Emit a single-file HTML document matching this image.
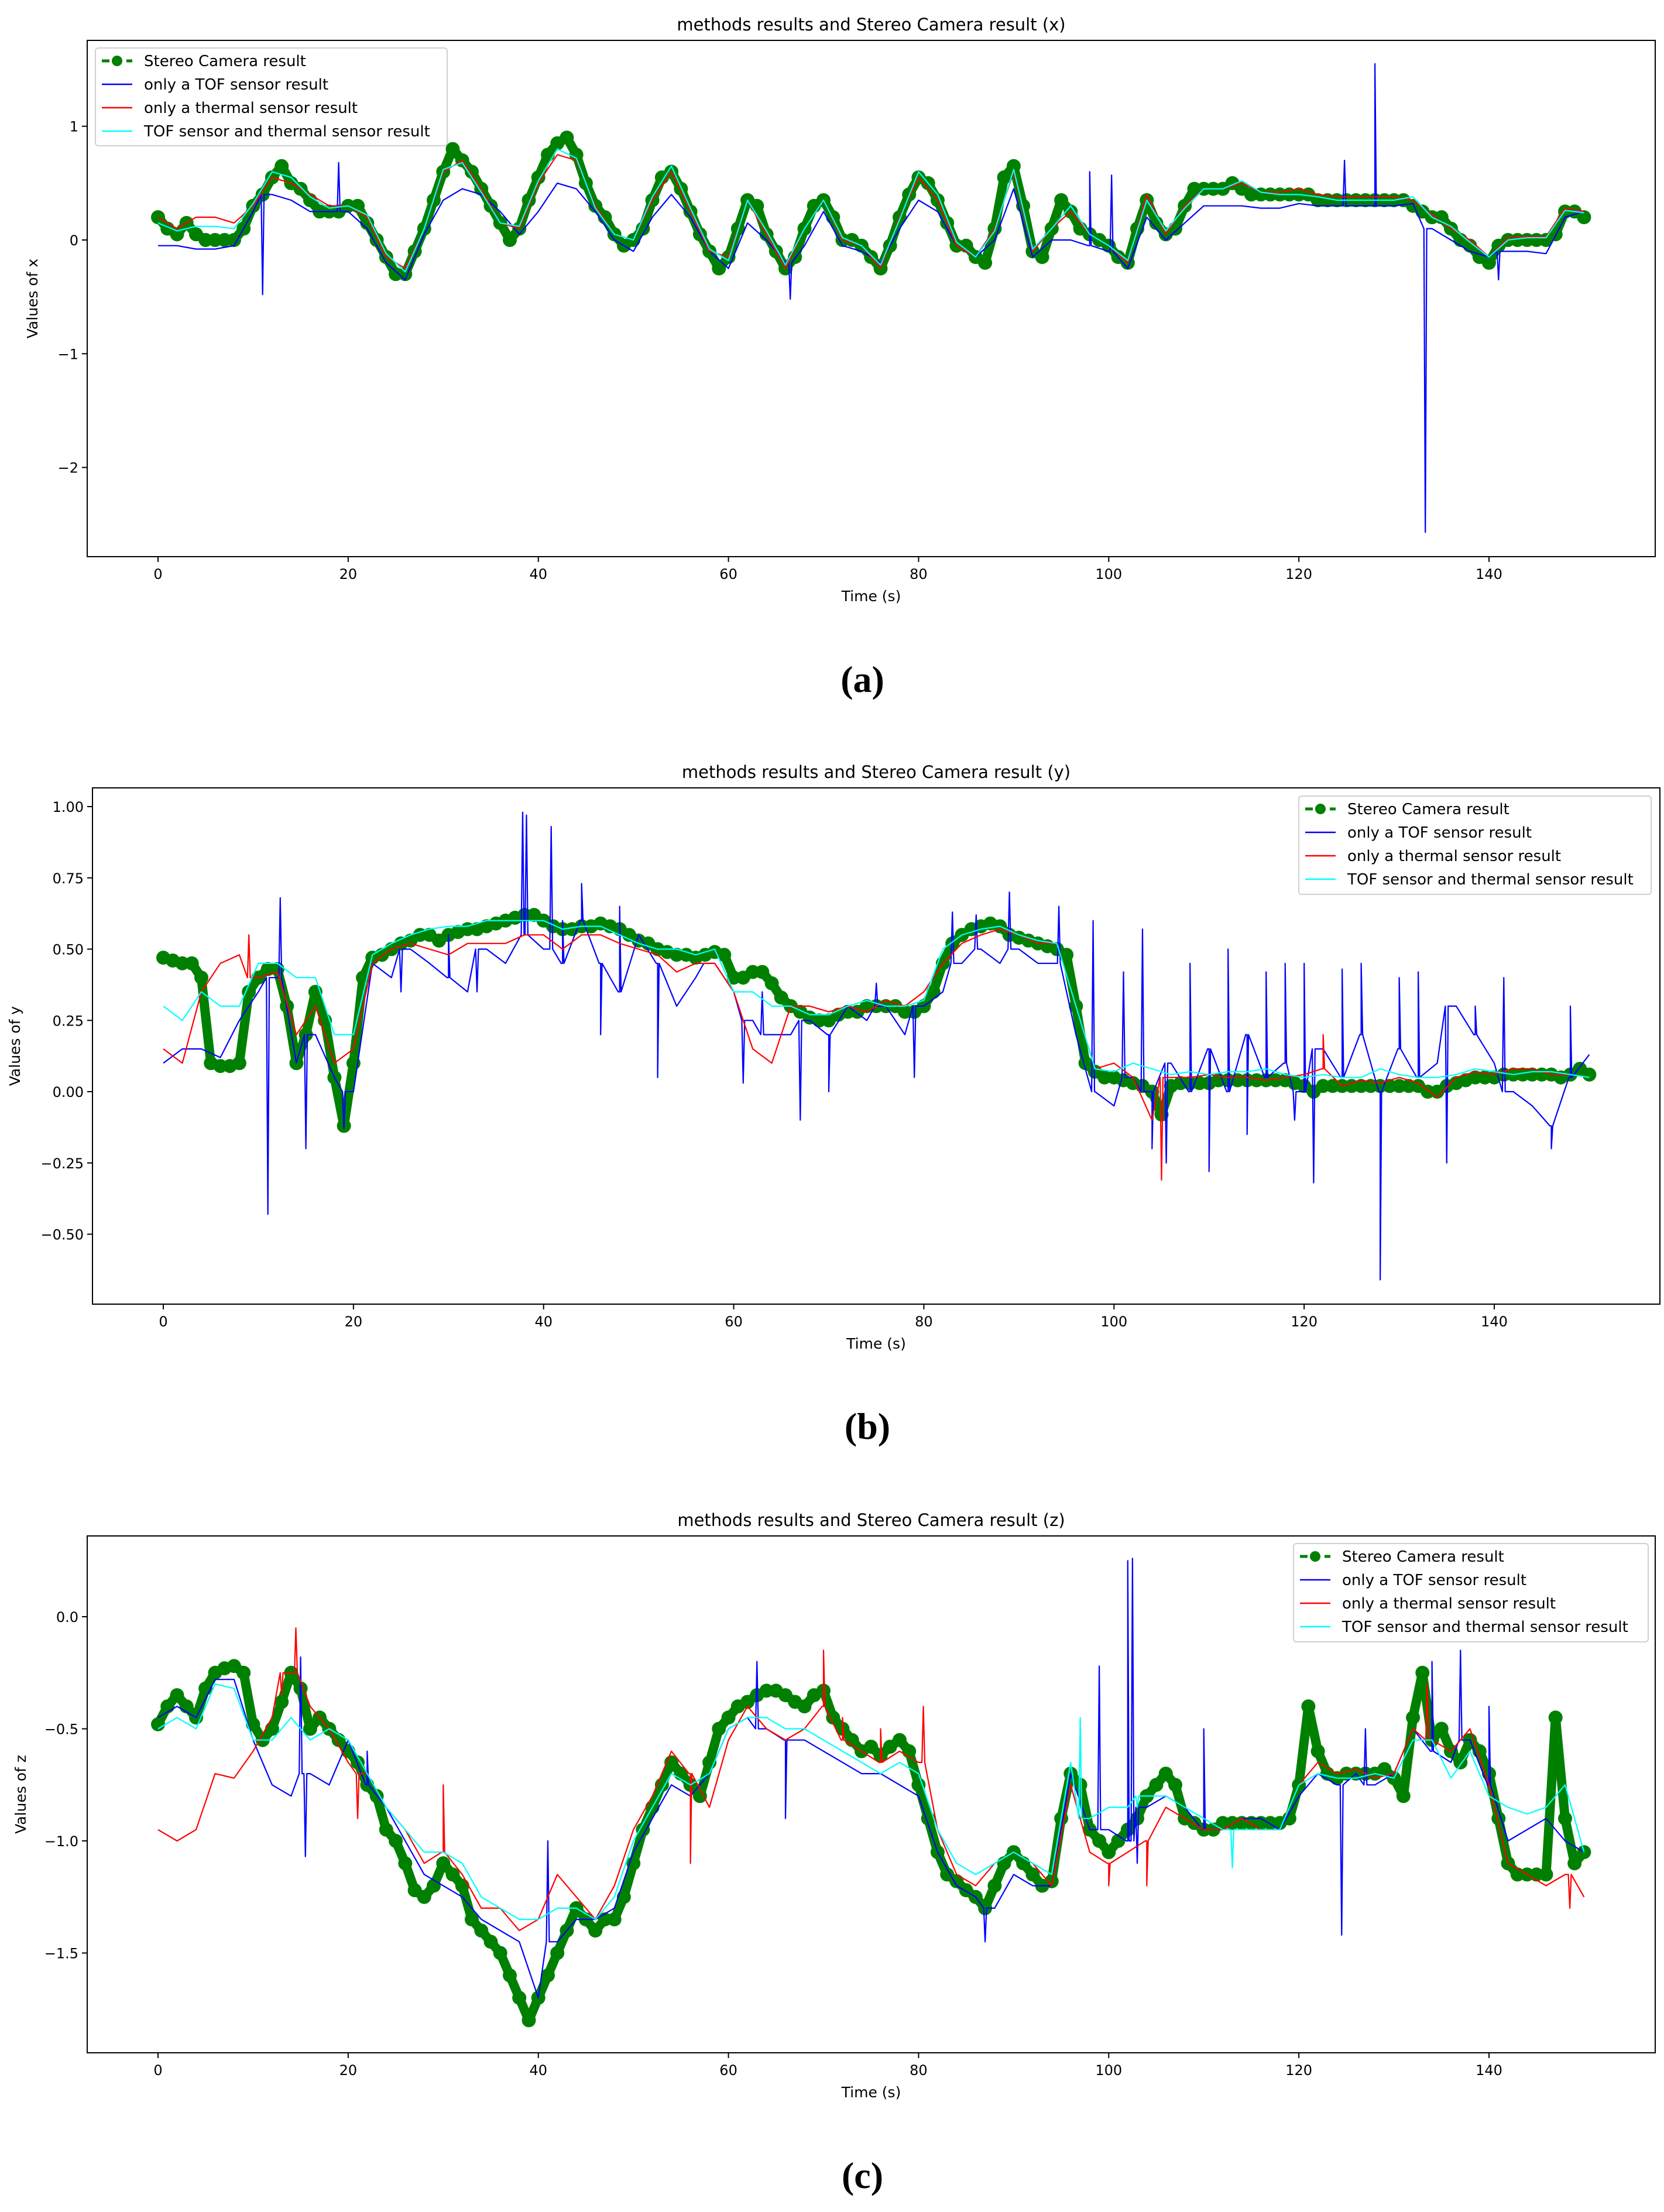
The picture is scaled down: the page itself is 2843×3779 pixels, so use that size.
<!DOCTYPE html>
<html><head><meta charset="utf-8">
<style>
html,body{margin:0;padding:0;background:#fff;}
svg{display:block;}
text{font-family:"DejaVu Sans","Liberation Sans",sans-serif;fill:#000;}
.cap{font-family:"Liberation Serif",serif;font-weight:bold;}
</style></head>
<body>
<svg id="fig" width="2843" height="3779" viewBox="0 0 2843 3779" xmlns="http://www.w3.org/2000/svg"></svg>
<script>
// ---------- Panel (a): x ----------
const stereoX = [0.2,0.1,0.05,0.15,0.05,0.0,0.0,0.0,0.0,0.1,0.3,0.4,0.55,0.65,0.5,0.45,0.35,0.25,0.25,0.25,0.3,0.3,0.15,0.0,-0.15,-0.3,-0.3,-0.1,0.1,0.35,0.6,0.8,0.7,0.6,0.45,0.3,0.15,0.0,0.1,0.35,0.55,0.75,0.85,0.9,0.75,0.5,0.3,0.2,0.05,-0.05,0.0,0.1,0.35,0.55,0.6,0.45,0.25,0.05,-0.1,-0.25,-0.15,0.1,0.35,0.3,0.05,-0.1,-0.25,-0.15,0.1,0.3,0.35,0.2,0.0,0.0,-0.05,-0.15,-0.25,-0.05,0.2,0.4,0.55,0.5,0.35,0.15,-0.05,-0.05,-0.15,-0.2,0.1,0.55,0.65,0.3,-0.1,-0.15,0.1,0.35,0.25,0.1,0.05,0.0,-0.05,-0.15,-0.2,0.1,0.35,0.15,0.05,0.1,0.3,0.45,0.45,0.45,0.45,0.5,0.45,0.4,0.4,0.4,0.4,0.4,0.4,0.4,0.35,0.35,0.35,0.35,0.35,0.35,0.35,0.35,0.35,0.35,0.3,0.25,0.2,0.2,0.1,0.0,-0.05,-0.15,-0.2,-0.05,0.0,0.0,0.0,0.0,0.0,0.05,0.25,0.25,0.2];
const tofX = [-0.05,-0.05,-0.08,-0.08,-0.05,0.25,0.4,0.35,0.25,0.25,0.25,0.1,-0.2,-0.35,0.05,0.35,0.45,0.4,0.25,0.05,0.25,0.5,0.45,0.25,0.0,-0.1,0.2,0.4,0.2,-0.1,-0.25,0.15,0.0,-0.2,-0.05,0.25,-0.05,-0.1,-0.2,0.1,0.35,0.25,-0.05,-0.15,0.0,0.45,-0.15,0.0,0.0,-0.05,-0.1,-0.25,0.2,0.0,0.15,0.3,0.3,0.3,0.28,0.28,0.32,0.3,0.3,0.3,0.3,0.3,0.32,0.1,0.0,-0.1,-0.15,-0.1,-0.1,-0.12,0.2,0.25];
const thermalX = [0.2,0.1,0.2,0.2,0.15,0.3,0.55,0.5,0.4,0.3,0.3,0.2,-0.15,-0.25,0.1,0.6,0.7,0.45,0.15,0.1,0.5,0.75,0.7,0.3,0.05,0.0,0.35,0.6,0.25,-0.1,-0.15,0.35,0.05,-0.25,0.1,0.35,0.0,-0.05,-0.25,0.2,0.55,0.35,-0.05,-0.15,0.1,0.6,-0.1,0.1,0.25,0.05,-0.05,-0.2,0.4,0.05,0.3,0.45,0.45,0.5,0.42,0.42,0.45,0.4,0.38,0.38,0.38,0.38,0.35,0.22,0.1,0.0,-0.15,0.02,0.03,0.03,0.28,0.25];
const fusedX = [0.15,0.08,0.12,0.12,0.1,0.32,0.6,0.55,0.38,0.28,0.3,0.22,-0.12,-0.28,0.1,0.62,0.68,0.42,0.15,0.12,0.52,0.8,0.72,0.28,0.05,0.0,0.38,0.65,0.28,-0.08,-0.18,0.35,0.08,-0.22,0.1,0.35,0.02,-0.05,-0.22,0.18,0.6,0.4,-0.02,-0.15,0.08,0.62,-0.08,0.1,0.3,0.05,-0.05,-0.18,0.35,0.08,0.28,0.45,0.45,0.52,0.42,0.4,0.4,0.38,0.35,0.35,0.35,0.35,0.38,0.2,0.12,-0.02,-0.15,0.0,0.02,0.02,0.26,0.24];
const tofXSpikeT = [11,19,66.5,98,100.3,124.8,128,133.3,141];
const tofXSpikeV = [-0.48,0.68,-0.52,0.6,0.57,0.7,1.55,-2.57,-0.35];

// ---------- Panel (b): y ----------
const stereoY = [0.47,0.46,0.45,0.45,0.4,0.1,0.09,0.09,0.1,0.35,0.4,0.43,0.43,0.3,0.1,0.2,0.35,0.25,0.05,-0.12,0.1,0.4,0.47,0.48,0.5,0.52,0.53,0.55,0.55,0.53,0.55,0.56,0.57,0.57,0.58,0.59,0.6,0.61,0.62,0.62,0.6,0.58,0.57,0.57,0.58,0.58,0.59,0.58,0.57,0.55,0.53,0.52,0.5,0.49,0.48,0.48,0.47,0.48,0.49,0.48,0.4,0.4,0.42,0.42,0.38,0.33,0.3,0.28,0.26,0.25,0.25,0.27,0.28,0.28,0.3,0.3,0.3,0.3,0.28,0.28,0.3,0.35,0.45,0.52,0.55,0.57,0.58,0.59,0.58,0.55,0.54,0.53,0.52,0.51,0.5,0.48,0.3,0.1,0.07,0.05,0.05,0.04,0.03,0.02,0.0,-0.08,0.02,0.03,0.03,0.03,0.03,0.04,0.04,0.04,0.04,0.04,0.04,0.04,0.04,0.03,0.02,0.0,0.02,0.02,0.02,0.02,0.02,0.02,0.02,0.02,0.02,0.02,0.02,0.0,0.0,0.02,0.03,0.04,0.05,0.05,0.05,0.06,0.06,0.06,0.06,0.06,0.06,0.05,0.06,0.08,0.06];
const tofY = [0.1,0.15,0.15,0.12,0.25,0.35,0.4,0.1,0.2,0.05,0.0,0.45,0.4,0.5,0.45,0.4,0.35,0.5,0.45,0.55,0.5,0.45,0.6,0.45,0.35,0.55,0.45,0.3,0.4,0.45,0.35,0.25,0.2,0.2,0.25,0.2,0.3,0.25,0.3,0.2,0.3,0.35,0.45,0.5,0.45,0.5,0.45,0.45,0.2,0.0,-0.05,0.05,0.0,0.1,0.0,0.15,0.0,0.2,0.05,0.1,0.0,0.15,0.05,0.2,0.0,0.15,0.05,0.1,0.3,0.2,0.1,0.0,-0.05,-0.12,0.05,0.13];
const thermalY = [0.15,0.1,0.35,0.45,0.48,0.4,0.42,0.2,0.3,0.1,0.15,0.45,0.5,0.52,0.5,0.48,0.52,0.52,0.52,0.55,0.55,0.5,0.55,0.55,0.52,0.5,0.48,0.42,0.45,0.45,0.35,0.15,0.1,0.3,0.3,0.28,0.3,0.28,0.32,0.3,0.35,0.45,0.52,0.55,0.57,0.55,0.52,0.52,0.3,0.08,0.1,0.05,-0.1,0.05,0.05,0.06,0.05,0.05,0.04,0.05,0.06,0.08,0.02,0.04,0.03,0.05,0.03,-0.02,0.05,0.07,0.06,0.08,0.08,0.06,0.06,0.05];
const fusedY = [0.3,0.25,0.35,0.3,0.3,0.45,0.45,0.4,0.4,0.2,0.2,0.48,0.52,0.55,0.57,0.58,0.58,0.6,0.6,0.6,0.6,0.57,0.58,0.58,0.55,0.52,0.5,0.5,0.48,0.5,0.35,0.35,0.3,0.3,0.27,0.27,0.3,0.32,0.3,0.3,0.32,0.5,0.55,0.57,0.58,0.55,0.53,0.52,0.3,0.08,0.07,0.1,0.08,0.06,0.07,0.06,0.07,0.07,0.08,0.06,0.05,0.06,0.05,0.05,0.08,0.06,0.05,0.05,0.06,0.08,0.07,0.06,0.07,0.07,0.06,0.05];
const tofYSpikeT = [11,12.3,15,19,25,30,33,37.8,38.2,40.8,42,44,46,48,52,57,61,63,67,70,75,79,83,85.5,89,94.2,97.8,101,103,104,105.5,108,110,112,114,116,118,119,120,121,124,126,128,130,132,135,138,141,146,148];
const tofYSpikeV = [-0.43,0.68,-0.2,-0.13,0.35,0.55,0.35,0.98,0.97,0.93,0.6,0.73,0.2,0.65,0.05,0.45,0.03,0.35,-0.1,0.0,0.38,0.05,0.63,0.62,0.7,0.65,0.6,0.42,0.57,-0.2,-0.25,0.45,-0.28,0.5,-0.15,0.42,0.45,-0.1,0.45,-0.32,0.43,0.45,-0.66,0.4,0.42,-0.25,0.3,0.4,-0.2,0.3];
const thermalYSpikeT = [9,105,122];
const thermalYSpikeV = [0.55,-0.31,0.2];

// ---------- Panel (c): z ----------
const stereoZ = [-0.48,-0.4,-0.35,-0.4,-0.45,-0.32,-0.25,-0.23,-0.22,-0.25,-0.48,-0.55,-0.5,-0.38,-0.25,-0.32,-0.5,-0.45,-0.5,-0.55,-0.6,-0.65,-0.75,-0.8,-0.95,-1.0,-1.1,-1.22,-1.25,-1.2,-1.1,-1.15,-1.2,-1.35,-1.4,-1.45,-1.5,-1.6,-1.7,-1.8,-1.7,-1.6,-1.5,-1.4,-1.3,-1.35,-1.4,-1.35,-1.35,-1.25,-1.1,-0.95,-0.85,-0.75,-0.65,-0.7,-0.75,-0.8,-0.65,-0.5,-0.45,-0.4,-0.38,-0.35,-0.33,-0.33,-0.35,-0.38,-0.4,-0.35,-0.33,-0.45,-0.5,-0.55,-0.6,-0.58,-0.62,-0.58,-0.55,-0.6,-0.75,-0.9,-1.05,-1.15,-1.18,-1.22,-1.25,-1.3,-1.2,-1.1,-1.05,-1.1,-1.15,-1.2,-1.18,-0.9,-0.7,-0.75,-0.95,-1.0,-1.05,-1.0,-0.95,-0.9,-0.8,-0.75,-0.7,-0.75,-0.9,-0.92,-0.95,-0.95,-0.92,-0.92,-0.92,-0.92,-0.92,-0.92,-0.92,-0.9,-0.75,-0.4,-0.6,-0.7,-0.72,-0.7,-0.7,-0.7,-0.7,-0.68,-0.72,-0.8,-0.45,-0.25,-0.55,-0.5,-0.6,-0.65,-0.55,-0.6,-0.7,-0.9,-1.1,-1.15,-1.15,-1.15,-1.15,-0.45,-0.9,-1.1,-1.05];
const tofZ = [-0.45,-0.4,-0.45,-0.28,-0.28,-0.55,-0.75,-0.8,-0.7,-0.75,-0.55,-0.75,-0.85,-1.0,-1.15,-1.2,-1.25,-1.35,-1.4,-1.45,-1.7,-1.45,-1.35,-1.35,-1.3,-1.05,-0.9,-0.75,-0.8,-0.7,-0.5,-0.45,-0.5,-0.55,-0.55,-0.6,-0.65,-0.7,-0.7,-0.75,-0.8,-1.05,-1.2,-1.25,-1.3,-1.15,-1.2,-1.2,-0.7,-0.95,-0.95,-1.0,-0.85,-0.8,-0.85,-0.95,-0.95,-0.9,-0.9,-0.95,-0.8,-0.7,-0.75,-0.7,-0.75,-0.7,-0.5,-0.6,-0.65,-0.55,-0.75,-1.0,-0.95,-0.9,-1.0,-1.05];
const thermalZ = [-0.95,-1.0,-0.95,-0.7,-0.72,-0.6,-0.45,-0.25,-0.4,-0.5,-0.65,-0.7,-0.85,-0.95,-1.1,-1.05,-1.15,-1.3,-1.3,-1.4,-1.35,-1.15,-1.25,-1.35,-1.2,-0.95,-0.8,-0.6,-0.7,-0.85,-0.55,-0.4,-0.5,-0.55,-0.5,-0.4,-0.55,-0.6,-0.65,-0.6,-0.65,-0.95,-1.15,-1.2,-1.1,-1.05,-1.1,-1.2,-0.75,-1.05,-1.1,-1.05,-1.0,-0.85,-0.9,-0.95,-0.95,-0.9,-0.95,-0.95,-0.75,-0.65,-0.7,-0.68,-0.72,-0.7,-0.5,-0.55,-0.6,-0.5,-0.75,-1.1,-1.15,-1.2,-1.15,-1.25];
const fusedZ = [-0.5,-0.45,-0.5,-0.3,-0.32,-0.55,-0.55,-0.45,-0.55,-0.5,-0.55,-0.7,-0.85,-0.95,-1.05,-1.05,-1.1,-1.25,-1.3,-1.35,-1.35,-1.3,-1.3,-1.35,-1.25,-1.0,-0.85,-0.7,-0.75,-0.7,-0.5,-0.45,-0.45,-0.5,-0.5,-0.55,-0.6,-0.65,-0.7,-0.65,-0.7,-0.95,-1.1,-1.15,-1.1,-1.05,-1.1,-1.15,-0.65,-0.9,-0.85,-0.85,-0.8,-0.8,-0.85,-0.9,-0.95,-0.95,-0.95,-0.95,-0.75,-0.7,-0.72,-0.72,-0.7,-0.72,-0.55,-0.55,-0.72,-0.6,-0.8,-0.85,-0.88,-0.85,-0.75,-1.05];
const tofZSpikeT = [15,15.5,22,41,63,66,87,99,102,102.5,103,110,124.5,127,134,137,140];
const tofZSpikeV = [-0.18,-1.07,-0.6,-1.0,-0.2,-0.9,-1.45,-0.22,0.25,0.26,-1.1,-0.5,-1.42,-0.5,-0.2,-0.15,-0.4];
const thermalZSpikeT = [13,14.5,21,30,56,70,72,76,80.5,100,104,133.5,148.5];
const thermalZSpikeV = [-0.35,-0.05,-0.9,-0.75,-1.1,-0.15,-0.45,-0.5,-0.4,-1.2,-1.2,-0.3,-1.3];
const fusedZSpikeT = [97,103,113];
const fusedZSpikeV = [-0.45,-0.85,-1.12];

const xTicks = [0,20,40,60,80,100,120,140];
const legendLabels = ["Stereo Camera result","only a TOF sensor result","only a thermal sensor result","TOF sensor and thermal sensor  result"];

const NS = "http://www.w3.org/2000/svg";
const svg = document.getElementById('fig');
function mk(tag, attrs, parent){ const e=document.createElementNS(NS,tag); for(const k in attrs) e.setAttribute(k,attrs[k]); (parent||svg).appendChild(e); return e; }

function seriesPts(vals, step, spikeT, spikeV){
  let pts = vals.map((v,i)=>[i*step,v]);
  if(spikeT){
    spikeT.forEach((t,i)=>{
      const idx = Math.min(vals.length-1, Math.round(t/step));
      const base = vals[idx];
      pts.push([t-0.15,base]); pts.push([t,spikeV[i]]); pts.push([t+0.15,base]);
    });
    pts.sort((a,b)=>a[0]-b[0]);
  }
  return pts;
}

function panel(cfg){
  const g = mk('g',{});
  
  
  const X = t => cfg.x0 + cfg.pxs*t;
  const Y = v => cfg.y0 - cfg.pyu*v;
  const clipId = cfg.name+'-clip';
  const cp = mk('clipPath',{id:clipId},g);
  mk('rect',{x:cfg.L,y:cfg.T,width:cfg.R-cfg.L,height:cfg.B-cfg.T},cp);
  const plot = mk('g',{'clip-path':`url(#${clipId})`},g);
  
  
  const sp = cfg.stereo.map((v,i)=>[X(i),Y(v)]);
  const sd = sp.map((p,i)=>(i?'L':'M')+p[0].toFixed(1)+' '+p[1].toFixed(1)).join(' ');
  const sl = mk('path',{d:sd,fill:'none',stroke:'#008000','stroke-width':16,'stroke-linejoin':'round','stroke-linecap':'round'},plot);
  
  
  sp.forEach(p=>{
    const c = mk('circle',{cx:p[0].toFixed(1),cy:p[1].toFixed(1),r:12,fill:'#008000'},plot);
    
    
  });
  const lines = [
    ['tof-sensor-line','#0000ff',cfg.tof,cfg.tofST,cfg.tofSV],
    ['thermal-sensor-line','#ff0000',cfg.thermal,cfg.thST,cfg.thSV],
    ['fused-sensor-line','#00ffff',cfg.fused,cfg.fuST,cfg.fuSV]
  ];
  lines.forEach(l=>{
    const pts = seriesPts(l[2],2,l[3],l[4]);
    const d = pts.map((p,i)=>(i?'L':'M')+X(p[0]).toFixed(1)+' '+Y(p[1]).toFixed(1)).join(' ');
    const e = mk('path',{d:d,fill:'none',stroke:l[1],'stroke-width':2.2,'stroke-linejoin':'round'},plot);
    
    
  });
  const fr = mk('rect',{x:cfg.L,y:cfg.T,width:cfg.R-cfg.L,height:cfg.B-cfg.T,fill:'none',stroke:'#000','stroke-width':2},g);
  
  
  xTicks.forEach(t=>{
    const x=X(t);
    mk('line',{x1:x,y1:cfg.B,x2:x,y2:cfg.B+9,stroke:'#000','stroke-width':2},g);
    const tx = mk('text',{x:x,y:cfg.B+38,'font-size':24,'text-anchor':'middle'},g);
    tx.textContent = t;
    
    
  });
  cfg.yTicks.forEach((v,i)=>{
    const y=Y(v);
    mk('line',{x1:cfg.L-9,y1:y,x2:cfg.L,y2:y,stroke:'#000','stroke-width':2},g);
    const tx = mk('text',{x:cfg.L-15,y:y+9,'font-size':24,'text-anchor':'end'},g);
    tx.textContent = cfg.yLabels[i];
    
    
  });
  const ti = mk('text',{x:(cfg.L+cfg.R)/2,y:cfg.T-17,'font-size':29,'text-anchor':'middle'},g);
  ti.textContent = cfg.title;
  
  
  const xl = mk('text',{x:(cfg.L+cfg.R)/2,y:cfg.B+76,'font-size':25,'text-anchor':'middle'},g);
  xl.textContent = 'Time (s)';
  
  
  const cy=(cfg.T+cfg.B)/2;
  const yl = mk('text',{x:cfg.ylx,y:cy,'font-size':25,'text-anchor':'middle',transform:`rotate(-90 ${cfg.ylx} ${cy})`},g);
  yl.textContent = cfg.ylabel;
  
  
  const lg = mk('g',{},g);
  
  
  mk('rect',{x:cfg.lg[0],y:cfg.lg[1],width:cfg.lg[2],height:cfg.lg[3],rx:5,fill:'#fff','fill-opacity':0.8,stroke:'#d0d0d0','stroke-width':2},lg);
  const colors=['#008000','#0000ff','#ff0000','#00ffff'];
  legendLabels.forEach((lab,i)=>{
    const y = cfg.lg[1]+22+i*40;
    const sx = cfg.lg[0]+11;
    const e = mk('g',{},lg);
    
    
    if(i===0){
      mk('line',{x1:sx,y1:y,x2:sx+52,y2:y,stroke:colors[0],'stroke-width':5,'stroke-dasharray':'13 8'},e);
      mk('circle',{cx:sx+26,cy:y,r:9,fill:colors[0]},e);
    } else {
      mk('line',{x1:sx,y1:y,x2:sx+52,y2:y,stroke:colors[i],'stroke-width':2.5},e);
    }
    const t = mk('text',{x:sx+72,y:y+9,'font-size':26},e);
    t.textContent = lab;
  });
  const cap = mk('text',{x:(cfg.L+cfg.R)/2-15,y:cfg.capY,'font-size':64,'text-anchor':'middle','class':'cap'},g);
  cap.textContent = cfg.cap;
  
  
}

panel({name:'chart-x',L:149,R:2828,T:69,B:951,x0:270,pxs:16.243,y0:410,pyu:194.3,
  stereo:stereoX,tof:tofX,thermal:thermalX,fused:fusedX,tofST:tofXSpikeT,tofSV:tofXSpikeV,
  yTicks:[1,0,-1,-2],yLabels:['1','0','\u22121','\u22122'],title:'methods results and Stereo Camera result (x)',
  ylabel:'Values of x',ylx:64,lg:[163,82,601,167],cap:'(a)',capY:1182});
panel({name:'chart-y',L:158,R:2836,T:1346,B:2228,x0:279,pxs:16.243,y0:1865,pyu:487,
  stereo:stereoY,tof:tofY,thermal:thermalY,fused:fusedY,tofST:tofYSpikeT,tofSV:tofYSpikeV,thST:thermalYSpikeT,thSV:thermalYSpikeV,
  yTicks:[1,0.75,0.5,0.25,0,-0.25,-0.5],yLabels:['1.00','0.75','0.50','0.25','0.00','\u22120.25','\u22120.50'],title:'methods results and Stereo Camera result (y)',
  ylabel:'Values of y',ylx:34,lg:[2219,1360,602,168],cap:'(b)',capY:2458});
panel({name:'chart-z',L:149,R:2828,T:2624,B:3507,x0:270,pxs:16.243,y0:2762,pyu:383,
  stereo:stereoZ,tof:tofZ,thermal:thermalZ,fused:fusedZ,tofST:tofZSpikeT,tofSV:tofZSpikeV,thST:thermalZSpikeT,thSV:thermalZSpikeV,fuST:fusedZSpikeT,fuSV:fusedZSpikeV,
  yTicks:[0,-0.5,-1,-1.5],yLabels:['0.0','\u22120.5','\u22121.0','\u22121.5'],title:'methods results and Stereo Camera result (z)',
  ylabel:'Values of z',ylx:44,lg:[2210,2637,606,168],cap:'(c)',capY:3738});
</script>
</body></html>
